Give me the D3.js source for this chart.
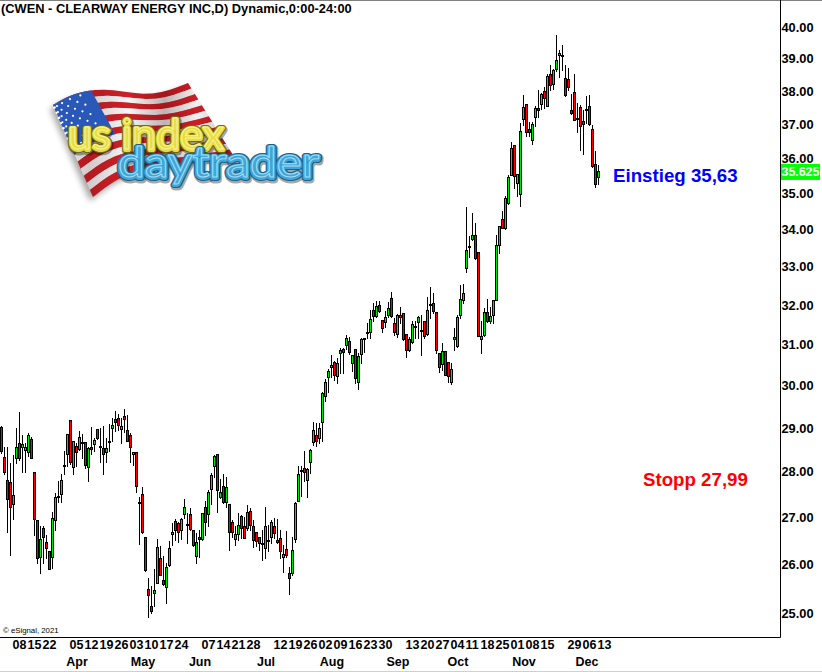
<!DOCTYPE html>
<html><head><meta charset="utf-8">
<script src="https://cdnjs.cloudflare.com/ajax/libs/d3/7.8.5/d3.min.js"></script>
<style>html,body{margin:0;padding:0;background:#fff}svg{display:block}text{font-family:"Liberation Sans",Arial,sans-serif}</style>
</head><body><div id="chart"></div>
<script>
const opens=[29.03,28.33,27.82,27.77,27.28,28.30,28.65,28.56,28.50,28.45,
28.74,27.99,26.93,26.16,26.76,26.47,26.27,26.16,26.93,27.46,
27.50,28.15,28.41,29.18,28.10,28.58,28.51,28.68,28.67,28.10,
28.56,28.62,28.97,28.59,28.54,28.45,28.69,28.99,29.21,29.23,
28.97,29.28,28.95,28.83,28.40,28.45,27.34,27.50,26.57,25.49,
25.14,25.40,25.61,26.12,25.67,25.53,25.99,26.64,26.91,26.87,
26.72,27.06,26.86,27.06,26.72,26.17,26.57,26.54,27.22,27.06,
27.61,28.12,28.40,27.45,27.68,27.32,27.28,26.89,26.53,26.64,
27.03,26.80,26.76,27.13,26.80,26.68,26.57,26.44,26.35,26.50,
26.57,26.81,26.51,26.55,26.14,26.32,25.81,25.81,26.52,27.36,
28.04,28.08,27.81,28.22,28.67,28.83,28.77,29.14,29.75,30.21,
30.45,30.57,30.23,30.79,30.89,30.99,31.09,30.55,30.89,30.08,
30.77,31.16,31.31,31.31,31.87,31.72,32.00,31.62,31.57,31.74,
32.18,31.54,31.27,31.76,31.80,31.27,30.87,31.06,31.47,31.57,
31.38,31.60,31.27,32.04,32.05,31.82,30.79,30.53,30.84,30.57,
30.08,31.14,30.96,31.76,32.13,32.98,33.57,33.74,33.85,33.39,
31.14,31.24,31.82,31.60,31.75,32.13,33.58,34.29,34.04,34.73,
35.51,36.38,35.29,35.00,37.15,37.60,36.85,36.53,37.20,37.48,
37.60,37.99,37.54,38.51,38.21,38.67,39.10,39.10,38.39,38.36,
37.42,37.96,37.18,37.51,37.09,37.45,37.54,36.85,35.83,35.46];
const highs=[29.05,28.57,28.57,28.19,28.38,28.99,29.37,28.84,28.65,28.88,
28.79,27.99,26.93,26.81,26.80,26.62,26.27,27.12,27.53,27.80,
27.95,28.46,28.86,29.18,28.70,28.65,28.93,28.86,28.67,28.57,
29.03,28.77,28.97,28.99,29.05,28.77,29.10,29.23,29.39,29.33,
29.23,29.44,29.31,28.88,28.45,28.45,27.45,27.66,26.57,25.72,
25.54,25.90,26.52,26.39,26.17,26.02,26.48,26.88,26.95,26.90,
26.98,27.40,27.09,27.20,26.72,26.66,26.73,27.10,27.35,27.60,
27.97,28.38,28.40,27.84,27.94,27.89,27.28,26.93,26.80,27.09,
27.05,27.01,27.27,27.19,26.94,26.68,26.57,26.73,27.22,26.83,
26.94,26.98,26.95,26.73,26.41,26.71,25.94,26.57,27.33,28.13,
28.13,28.46,28.08,28.51,29.14,29.11,29.11,29.84,30.16,30.40,
30.74,30.59,30.67,30.92,30.92,31.25,31.19,30.74,30.89,30.79,
31.17,31.17,31.54,31.88,32.05,32.12,32.10,31.62,31.86,32.09,
32.34,31.67,31.77,31.95,31.80,31.27,31.20,31.61,31.59,31.73,
31.76,31.60,32.22,32.47,32.31,31.82,30.79,31.04,30.84,30.57,
30.55,31.42,31.74,32.53,32.55,34.62,33.83,34.45,34.18,33.39,
31.61,31.92,32.16,31.96,32.13,33.85,34.10,34.52,34.94,35.53,
36.47,36.38,35.55,37.03,37.88,37.60,37.06,37.06,37.55,38.03,
37.93,38.13,38.51,38.80,38.67,39.75,39.27,39.43,38.80,38.70,
37.91,38.51,37.63,37.58,37.43,37.85,37.88,36.98,36.20,35.81];
const lows=[28.42,27.95,26.69,26.20,26.97,28.19,28.27,28.00,28.00,28.35,
28.31,26.62,26.02,25.81,26.02,26.12,25.89,25.92,26.73,27.32,
27.34,27.94,28.12,28.17,27.94,28.14,28.50,28.31,28.08,27.80,
28.40,28.46,28.74,28.21,27.94,28.21,28.46,28.71,28.92,28.96,
28.65,28.90,28.69,28.23,28.15,27.54,26.42,26.66,25.85,24.93,
25.00,25.15,25.61,25.77,25.57,25.21,25.97,26.40,26.50,26.46,
26.52,26.98,26.45,26.73,26.38,26.03,26.16,26.51,26.62,26.81,
27.29,27.89,27.12,27.42,27.31,27.23,26.30,26.57,26.41,26.51,
26.55,26.55,26.73,26.73,26.37,26.39,26.29,26.09,26.13,26.27,
26.44,26.55,26.44,26.12,25.83,26.14,25.39,25.78,26.46,27.36,
27.47,27.80,27.43,27.97,28.61,28.58,28.65,28.69,29.64,29.86,
30.22,30.14,30.06,30.30,30.30,30.90,30.78,30.35,30.06,29.93,
30.55,30.83,31.17,31.17,31.61,31.71,31.82,31.33,31.44,31.71,
31.70,31.25,31.19,31.54,31.11,30.71,30.85,31.04,31.16,31.17,
30.74,31.17,31.25,31.67,31.80,30.79,30.33,30.39,30.25,30.10,
30.03,30.88,30.94,31.67,32.05,32.86,33.26,33.72,33.22,31.21,
30.81,31.23,31.57,31.54,31.54,32.13,33.37,34.04,34.02,34.71,
35.51,35.15,34.94,34.64,36.98,36.64,36.64,36.43,36.96,37.21,
37.45,37.48,37.53,38.03,38.06,38.60,38.44,38.65,37.85,38.03,
37.30,37.12,36.78,36.25,36.13,37.03,36.98,35.76,35.17,35.26];
const closes=[28.46,28.00,27.39,27.22,27.48,28.57,28.31,28.63,28.56,28.83,
28.32,26.95,26.12,26.53,26.57,26.33,25.89,26.98,27.44,27.46,
27.81,28.15,28.86,28.22,28.70,28.45,28.79,28.68,28.15,28.54,
28.51,28.72,28.77,28.59,28.40,28.54,28.69,29.07,29.15,29.07,
29.04,29.21,28.70,28.56,28.45,27.68,27.34,26.67,25.87,25.36,
25.05,25.47,26.36,25.77,25.60,25.94,26.34,26.68,26.72,26.68,
26.95,27.22,26.86,26.74,26.40,26.46,26.53,27.09,26.90,27.55,
27.93,28.35,27.59,27.55,27.32,27.66,26.68,26.68,26.64,26.84,
26.76,26.56,27.12,26.84,26.50,26.48,26.44,26.44,26.81,26.50,
26.89,26.65,26.46,26.27,26.22,26.20,25.72,26.29,27.31,27.94,
28.04,28.00,28.06,28.50,28.95,28.69,28.99,29.82,30.08,30.35,
30.50,30.27,30.55,30.87,30.82,31.17,30.82,30.74,30.18,30.72,
31.14,31.16,31.31,31.65,31.72,31.97,31.85,31.42,31.71,31.92,
31.72,31.33,31.75,31.70,31.14,30.87,31.14,31.52,31.47,31.70,
31.38,31.22,31.87,32.04,31.85,30.87,30.45,30.84,30.27,30.23,
30.40,31.19,31.70,32.16,32.31,33.45,33.57,33.85,33.23,31.22,
31.22,31.82,31.60,31.72,32.13,33.58,34.09,34.04,34.87,35.47,
36.30,35.49,35.54,36.79,37.51,36.76,36.76,37.00,37.48,37.42,
37.90,37.78,38.45,38.17,38.64,38.95,39.17,39.10,37.87,38.11,
37.33,37.12,37.18,36.94,37.00,37.45,37.01,35.77,35.26,35.625];
const yTickValues=[25,26,27,28,29,30,31,32,33,34,35,36,37,38,39,40];
const dayTickIndex=[4,9,14,23,28,33,38,43,48,53,58,67,72,77,82,91,96,101,106,111,116,121,126,135,140,145,150,155,160,165,170,175,180,189,194,199];
const dayTickLabel=["08","15","22","05","12","19","26","03","10","17","24","07","14","21","28","12","19","26","02","09","16","23","30","13","20","27","04","11","18","25","01","08","15","29","06","13"];
const monthIndex=[25,47,66,88,110,132,152,174,195];
const monthLabel=["Apr","May","Jun","Jul","Aug","Sep","Oct","Nov","Dec"];
const lastPrice=35.625;

const W=822,H=672,axisX=780.5,axisY=637.5;
const svg=d3.select("#chart").append("svg").attr("width",W).attr("height",H);
svg.append("rect").attr("width",W).attr("height",H).attr("fill","#fff");
const x=d3.scaleLinear().domain([0,199]).range([1.5,598.5]);
const y=d3.scaleLog().domain([25,40]).range([613.1,27]);
const row=v=>Math.round(y(v))+.5;

/* logo */
const logo=svg.append("g");
const defs=svg.append("defs");
const blur=defs.append("filter").attr("id","sh").attr("x","-20%").attr("y","-20%").attr("width","140%").attr("height","140%");
blur.append("feGaussianBlur").attr("stdDeviation",3);
const grad=defs.append("linearGradient").attr("id","wave").attr("x1",0).attr("x2",1).attr("y1",0).attr("y2",0);
[[0,0],[.2,.18],[.42,0],[.62,.28],[.8,.02],[1,.25]].forEach(s=>grad.append("stop").attr("offset",s[0]).attr("stop-color","#300").attr("stop-opacity",s[1]));
const topX=d3.interpolateBasis([53,53,73,107,150,188,188]),topY=d3.interpolateBasis([105,105,93,87,98,83,83]);
const botX=d3.interpolateBasis([93,93,120,150,190,233,233]),botY=d3.interpolateBasis([197,197,176,167,162,155,155]);
const warp=(u,v)=>[topX(u)+(botX(u)-topX(u))*v,topY(u)+(botY(u)-topY(u))*v];
const band=(u0,u1,v0,v1)=>{const p=[];d3.range(0,1.0001,.04).forEach(t=>p.push(warp(u0+(u1-u0)*t,v0)));d3.range(1,-.0001,-.04).forEach(t=>p.push(warp(u0+(u1-u0)*t,v1)));return "M"+p.map(q=>q.join(",")).join("L")+"Z";};
logo.append("path").attr("d",band(0,1,0,1)).attr("fill","#000").attr("opacity",.35).attr("filter","url(#sh)").attr("transform","translate(-3,4)");
d3.range(13).forEach(i=>logo.append("path").attr("d",band(0,1,i/13,(i+1)/13)).attr("fill",i%2?"#f6f6f6":"#cf1f27"));
logo.append("path").attr("d",band(0,1,0,1)).attr("fill","url(#wave)");
logo.append("path").attr("d",band(0,.42,0,7/13)).attr("fill","#2a58b8");
d3.range(9).forEach(r=>d3.range(r%2?5:6).forEach(c=>{const p=warp(.025+(c+(r%2?.5:0))*.066,.03+r*.056);logo.append("circle").attr("cx",p[0]).attr("cy",p[1]).attr("r",1.1).attr("fill","#fff");}));
const tube=(id,str,px,py,size,len,dark,mid,light)=>{
  defs.append("text").attr("id",id).text(str).attr("x",px).attr("y",py).attr("font-size",size).attr("textLength",len).attr("lengthAdjust","spacingAndGlyphs").style("font-family","Lato,'Open Sans',sans-serif");
  const use=()=>logo.append("use").attr("href","#"+id).attr("fill","none").attr("stroke-linejoin","round").attr("stroke-linecap","round");
  use().attr("stroke","#000").attr("stroke-opacity",.35).attr("stroke-width",7).attr("transform","translate(1,2)");
  use().attr("stroke",dark).attr("stroke-width",6);
  use().attr("stroke",mid).attr("stroke-width",3.8);
  use().attr("stroke",light).attr("stroke-width",1).attr("transform","translate(0,-.8)");
};
tube("logoA","us index",68,150,42,156,"#6d6a14","#e9dd3e","#f7f2a0");
tube("logoB","daytrader",118,178,42,201,"#1d6184","#3fa6da","#a6dcf4");

/* axis frame */
svg.append("line").attr("x1",0).attr("x2",W).attr("y1",.5).attr("y2",.5).attr("stroke","#808080");
svg.append("line").attr("x1",0).attr("x2",W).attr("y1",671.5).attr("y2",671.5).attr("stroke","#c4d3df");
svg.append("line").attr("x1",axisX).attr("x2",axisX).attr("y1",0).attr("y2",axisY).attr("stroke","#000");
svg.append("line").attr("x1",0).attr("x2",axisX).attr("y1",axisY).attr("y2",axisY).attr("stroke","#000");

/* candles */
const candles=d3.range(opens.length).map(i=>({i,o:opens[i],h:highs[i],l:lows[i],c:closes[i]}));
const g=svg.append("g").attr("shape-rendering","crispEdges");
g.selectAll("line").data(candles).join("line")
 .attr("x1",d=>x(d.i)).attr("x2",d=>x(d.i)).attr("y1",d=>row(d.h)-.5).attr("y2",d=>row(d.l)+.5)
 .attr("stroke","#000");
g.selectAll("rect").data(candles).join("rect")
 .attr("x",d=>x(d.i)-1).attr("width",2)
 .attr("y",d=>row(Math.max(d.o,d.c)))
 .attr("height",d=>Math.max(1,row(Math.min(d.o,d.c))-row(Math.max(d.o,d.c))))
 .attr("fill",d=>d.c>=d.o?"#00e800":"#ff0000").attr("stroke","#000");

/* axes */
const yAxis=d3.axisRight(y).tickValues(yTickValues).tickSize(0).tickPadding(1).tickFormat(d3.format(".2f"));
const ya=svg.append("g").attr("transform",`translate(${axisX},0)`).call(yAxis);
ya.select(".domain").remove();
ya.selectAll("text").attr("font-size",12.8).attr("font-weight",700).attr("fill","#000").style("font-family","'Liberation Sans',Arial,sans-serif");
const xa=svg.append("g").attr("transform",`translate(0,${axisY})`).call(
 d3.axisBottom(x).tickValues(dayTickIndex).tickSize(0).tickPadding(3).tickFormat((d,i)=>dayTickLabel[i]));
xa.select(".domain").remove();
xa.selectAll("text").attr("text-anchor","start").attr("dx",-1.5).attr("font-size",12.5).attr("font-weight",700).attr("fill","#000").style("font-family","'Liberation Sans',Arial,sans-serif");
const xm=svg.append("g").attr("transform",`translate(0,${axisY+17})`).call(
 d3.axisBottom(x).tickValues(monthIndex).tickSize(0).tickPadding(3).tickFormat((d,i)=>monthLabel[i]));
xm.select(".domain").remove();
xm.selectAll("text").attr("font-size",12.5).attr("font-weight",700).attr("fill","#000").style("font-family","'Liberation Sans',Arial,sans-serif");

/* last price */
svg.append("rect").attr("x",781).attr("y",y(lastPrice)-7.5).attr("width",39).attr("height",16).attr("fill","#00ff00");
svg.append("text").text(lastPrice.toFixed(3)).attr("x",781.5).attr("y",y(lastPrice)+5).attr("font-size",12.4).attr("font-weight",700).attr("fill","#fff");

/* text */
svg.append("text").text("(CWEN - CLEARWAY ENERGY INC,D) Dynamic,0:00-24:00").attr("x",1).attr("y",13).attr("font-size",12.85).attr("font-weight",700).attr("fill","#000");
svg.append("text").text("© eSignal, 2021").attr("x",3).attr("y",633).attr("font-size",7.8).attr("fill","#000");
svg.append("text").text("Einstieg 35,63").attr("x",613).attr("y",182).attr("font-size",18.7).attr("font-weight",700).attr("fill","#0000ff");
svg.append("text").text("Stopp 27,99").attr("x",643).attr("y",486).attr("font-size",18.7).attr("font-weight",700).attr("fill","#ff0000");
</script></body></html>
